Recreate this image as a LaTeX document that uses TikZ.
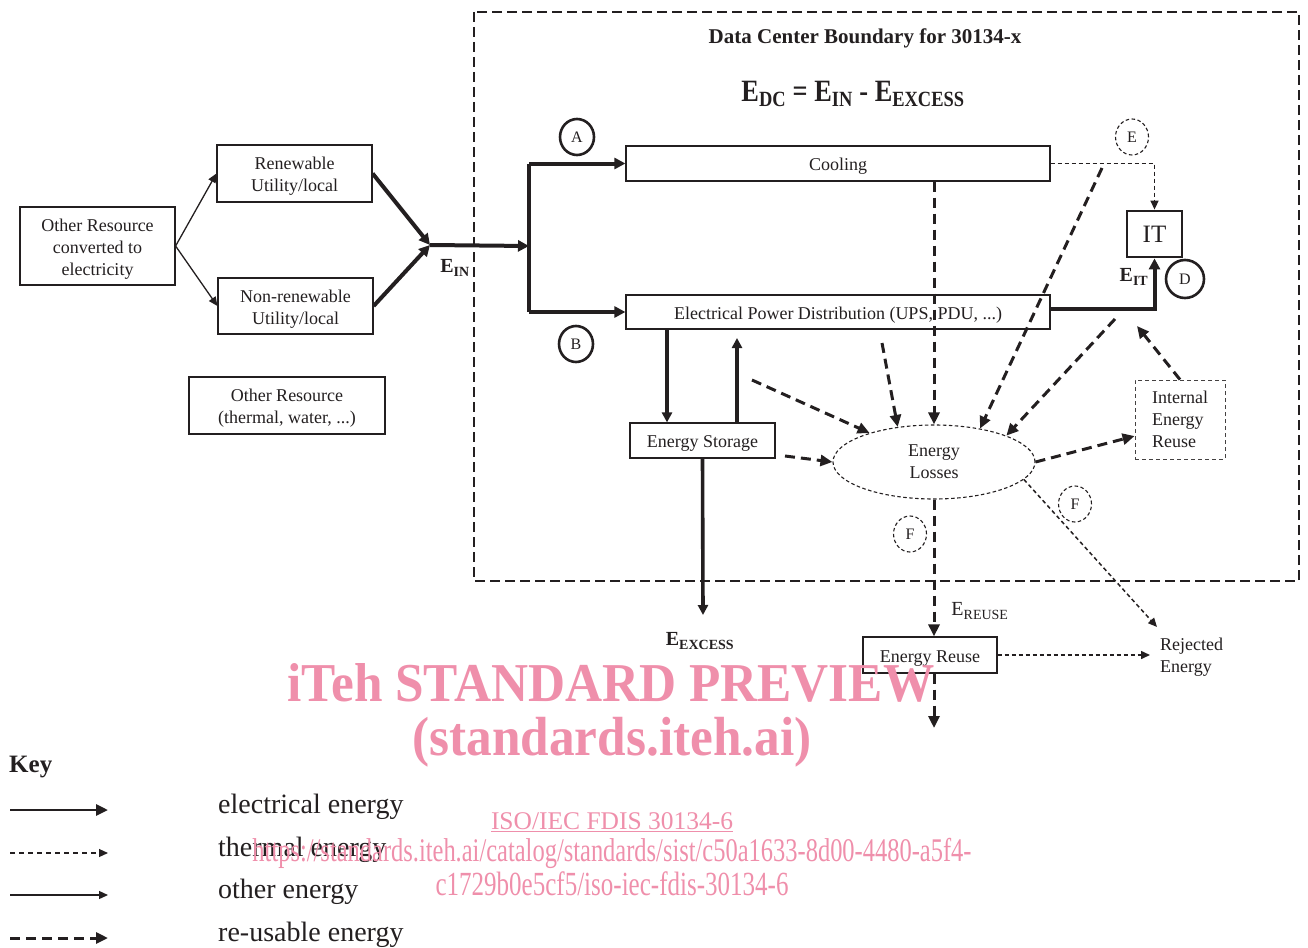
\documentclass[tikz,border=0pt]{standalone}
\usepackage{fontspec}
\setmainfont{Liberation Serif}
\usetikzlibrary{arrows.meta,shapes.geometric,calc}
\definecolor{ink}{RGB}{35,31,32}
\definecolor{wm}{RGB}{239,143,171}
\newcommand\bxt[1]{\raisebox{-3pt}[\height][\depth]{\begin{tabular}{@{}c@{}}#1\end{tabular}}}
\begin{document}
\begin{tikzpicture}[x=1pt,y=-1pt,
  font=\fontsize{18}{22}\selectfont, text=ink,
  box/.style={draw=ink, line width=1.2pt, inner sep=0pt, align=center},
  elec/.style={draw=ink, line width=4pt, -{Triangle[length=11pt,width=11pt]}},
  elecs/.style={draw=ink, line width=3.6pt, -{Triangle[length=10pt,width=10pt]}},
  other/.style={draw=ink, line width=1.3pt, -{Triangle[length=9pt,width=8pt]}},
  therm/.style={draw=ink, line width=1.5pt, dash pattern=on 4pt off 3pt, -{Triangle[length=9pt,width=8pt]}},
  reuse/.style={draw=ink, line width=3pt, dash pattern=on 10pt off 6pt, -{Triangle[length=12pt,width=11pt]}},
  thinda/.style={draw=ink, line width=1.1pt, dash pattern=on 3.5pt off 2.5pt},
  thinbox/.style={draw=ink!85, line width=0.9pt, dash pattern=on 4pt off 3pt},
  circ/.style={draw=ink, ellipse, line width=2.6pt, inner sep=0pt, minimum width=34pt, minimum height=36pt, font=\fontsize{16}{18}\selectfont},
  dcirc/.style={thinda, ellipse, inner sep=0pt, minimum width=33pt, minimum height=36pt, font=\fontsize{16}{18}\selectfont},
  lbl/.style={inner sep=0pt, font=\bfseries\fontsize{20}{24}\selectfont},
  keytxt/.style={anchor=west, inner sep=0pt, font=\fontsize{28}{32}\selectfont},
  wmark/.style={text=wm, inner sep=0pt}
]
\useasboundingbox (0,0) rectangle (1308,947);

% data centre boundary
\draw[draw=ink, line width=1.4pt, dash pattern=on 10pt off 5pt] (474,12) rectangle (1299,581);
\node[font=\bfseries\fontsize{21}{24}\selectfont] (title) at (865,38) {Data Center Boundary for 30134-x};
\node (eq) at (853,94) {\scalebox{0.85}[1]{\bfseries\fontsize{31}{36}\selectfont E\textsubscript{DC} = E\textsubscript{IN} - E\textsubscript{EXCESS}}};

% left boxes
\node[box, minimum width=155pt, minimum height=78pt] (orc) at (97.5,246) {\bxt{Other Resource\\converted to\\electricity}};
\node[box, minimum width=155pt, minimum height=57pt] (ren) at (294.5,173.5) {\bxt{Renewable\\Utility/local}};
\node[box, minimum width=155pt, minimum height=56pt] (non) at (295.5,306) {\bxt{Non-renewable\\Utility/local}};
\node[box, minimum width=196pt, minimum height=57pt] (oth) at (287,405.5) {\bxt{Other Resource\\(thermal, water, ...)}};

\draw[other] (orc.east) -- (ren.west);
\draw[other] (orc.east) -- (non.west);

\coordinate (jn) at (430,245);
\coordinate (bar) at (529,246);
\draw[elec] (ren.east) -- (jn);
\draw[elec] (non.east) -- (jn);
\draw[elec] (jn) -- (bar);
\node[lbl] (ein) at (455,268) {E\textsubscript{IN}};

% main boxes
\node[box, minimum width=424pt, minimum height=35pt] (cool) at (838,163.5) {\bxt{Cooling}};
\node[box, minimum width=424pt, minimum height=34pt] (epd) at (838,312) {\bxt{Electrical Power Distribution (UPS, PDU, ...)}};
\node[box, line width=2.8pt, minimum width=55pt, minimum height=46pt, font=\fontsize{25}{30}\selectfont] (IT) at (1154.5,234) {IT};

\draw[draw=ink, line width=4pt, line cap=square] (cool.west -| bar) -- (epd.west -| bar);
\draw[elec] (cool.west -| bar) -- (cool.west);
\draw[elec] (epd.west -| bar) -- (epd.west);

\node[circ] (A) at (577,137) {A};
\node[circ] (B) at (576,344) {B};
\node[circ, minimum width=38pt, minimum height=38pt] (D) at (1185,279) {D};
\node[dcirc] (E) at (1132,137) {E};
\node[dcirc] (F1) at (910,534) {F};
\node[dcirc] (F2) at (1075,504) {F};

\coordinate (itl) at (1155,309);
\draw[elec] (epd.east |- itl) -| (IT.south);
\node[lbl] (eit) at (1134,277) {E\textsubscript{IT}};
\draw[therm] (cool.east) -| (IT.north);

% storage
\node[box, minimum width=145pt, minimum height=35pt] (es) at (702.5,440.5) {\bxt{Energy Storage}};
\coordinate (s1) at (667,0);
\coordinate (s2) at (737,0);
\coordinate (s2t) at (737,338);
\draw[elecs] (epd.south -| s1) -- (es.north -| s1);
\draw[elecs] (es.north -| s2) -- (s2t);
\coordinate (exc) at (703,615);
\draw[elecs] (es.south) -- (exc);
\node[lbl] (eexc) at (700,641) {E\textsubscript{EXCESS}};

% losses
\node[thinda, ellipse, inner sep=0pt, minimum width=202pt, minimum height=74pt, align=center] (loss) at (934,462) {Energy\\Losses};
\node[thinbox, minimum width=90pt, minimum height=79pt, inner sep=0pt, align=left] (ier) at (1180,419.5) {Internal\\Energy\\Reuse};

\coordinate (r1) at (752,380);
\coordinate (r2) at (785,456);
\coordinate (r3) at (882,343);
\coordinate (r5) at (1102,168);
\coordinate (r6) at (1115,319);
\coordinate (r8) at (1137,326);
\draw[reuse] (r1) -- (loss);
\draw[reuse] (r2) -- (loss.west);
\draw[reuse] (r3) -- (loss.136);
\draw[reuse] (cool.south -| loss.north) -- (loss.north);
\draw[reuse] (r5) -- (loss.36);
\draw[reuse] (r6) -- (loss.20);
\draw[reuse] (loss.east) -- (ier.200);
\draw[reuse] (ier.north) -- (r8);

% reuse & rejected
\node[box, minimum width=134pt, minimum height=36pt] (reu) at (930,655) {\bxt{Energy Reuse}};
\draw[reuse] (loss.south) -- (loss.south |- reu.north);
\coordinate (out) at (934,728);
\draw[reuse] (reu.south -| loss.south) -- (out);
\node[inner sep=0pt, font=\fontsize{20}{24}\selectfont] (ereu) at (980,611) {E\textsubscript{REUSE}};

\node[anchor=west, inner sep=2pt, align=left] (rej) at (1158,657) {Rejected\\Energy};
\coordinate (rejt) at (1157,627);
\draw[therm] (loss.-11) -- (rejt);
\draw[therm, shorten >=8pt] (reu.east) -- (reu.east -| rej.west);

% key
\node[anchor=west, inner sep=0pt, font=\bfseries\fontsize{25}{30}\selectfont] (key) at (9,767) {Key};
\coordinate (k1a) at (10,810); \coordinate (k1b) at (108,810);
\coordinate (k2a) at (10,853); \coordinate (k2b) at (108,853);
\coordinate (k3a) at (10,895); \coordinate (k3b) at (108,895);
\coordinate (k4a) at (10,938); \coordinate (k4b) at (108,938);
\draw[draw=ink, line width=2.8pt, -{Triangle[length=12pt,width=11pt]}] (k1a) -- (k1b);
\draw[therm, line width=1.2pt, dash pattern=on 5pt off 4pt] (k2a) -- (k2b);
\draw[other] (k3a) -- (k3b);
\draw[reuse] (k4a) -- (k4b);
\node[keytxt] (t1) at (218,807) {electrical energy};
\node[keytxt] (t2) at (218,850) {thermal energy};
\node[keytxt] (t3) at (218,892) {other energy};
\node[keytxt] (t4) at (218,935) {re-usable energy};

% watermark
\node[wmark] (w1) at (611,683) {\resizebox{647pt}{38pt}{\bfseries iTeh STANDARD PREVIEW}};
\node[wmark] (w2) at (612,742) {\resizebox*{399pt}{50pt}{\bfseries (standards.iteh.ai)}};
\node[wmark] (w3) at (612,822) {\resizebox*{242pt}{!}{\fontsize{26}{30}\selectfont\underline{ISO/IEC FDIS 30134-6}}};
\node[wmark] (w4) at (612,853) {\resizebox{719pt}{!}{\scalebox{1}[1.35]{\fontsize{22}{26}\selectfont https://standards.iteh.ai/catalog/standards/sist/c50a1633-8d00-4480-a5f4-}}};
\node[wmark] (w5) at (612,884) {\resizebox{353pt}{!}{\scalebox{1}[1.35]{\fontsize{22}{26}\selectfont c1729b0e5cf5/iso-iec-fdis-30134-6}}};
\end{tikzpicture}
\end{document}
